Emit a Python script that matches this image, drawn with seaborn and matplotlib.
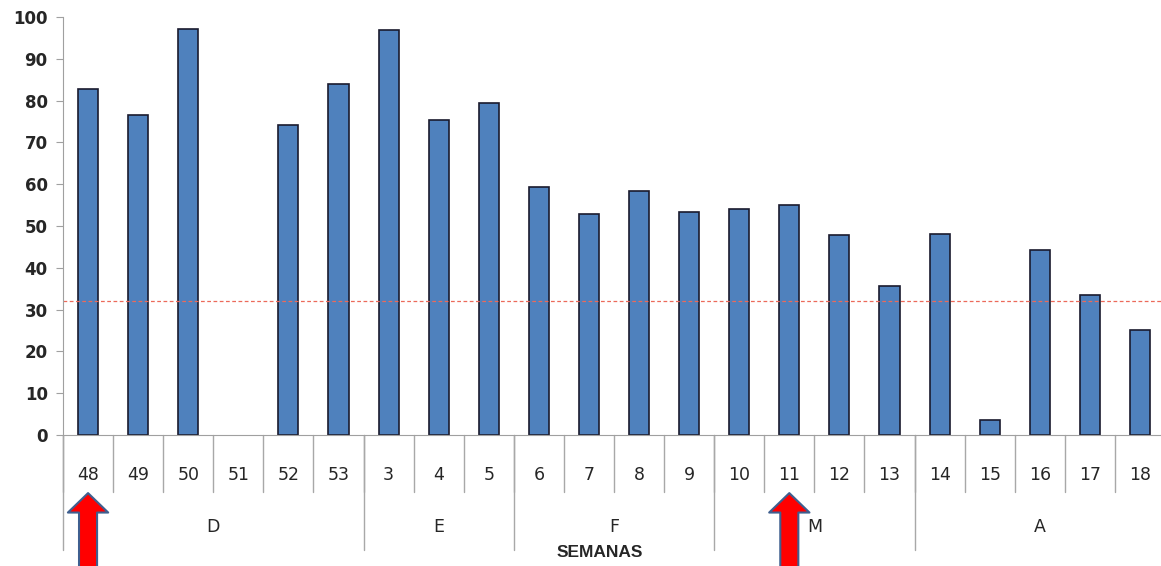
import matplotlib
matplotlib.use("Agg")
import matplotlib.pyplot as plt
import seaborn as sns
import pandas as pd

# datos
semanas = ["48", "49", "50", "51", "52", "53", "3", "4", "5", "6", "7",
           "8", "9", "10", "11", "12", "13", "14", "15", "16", "17", "18"]
valores = [82.8, 76.6, 97.1, 0, 74.2, 84.0, 96.9, 75.4, 79.4, 59.3, 52.9,
           58.4, 53.3, 54.0, 55.0, 47.8, 35.6, 48.1, 3.6, 44.3, 33.5, 25.1]
meses = ["D", "E", "F", "M", "A"]
semanas_por_mes = [6, 3, 4, 4, 5]
umbral = 32
flechas = ["48", "11"]

sns.set_style("white")
plt.rcParams["font.family"] = ["DejaVu Sans"]

df = pd.DataFrame({"semana": semanas, "valor": valores})

fig = plt.figure(figsize=(11.61, 5.66), dpi=100)
ax = fig.add_axes([63 / 1161, 1 - 435 / 566, (1165 - 63) / 1161, 418 / 566])
sns.barplot(data=df, x="semana", y="valor", order=semanas, color="#4F81BD",
            width=0.4, edgecolor="#1a1a2e", linewidth=1.2, saturation=1, ax=ax)
# sin barra visible cuando el valor es 0
for p in ax.patches:
    if p.get_height() == 0:
        p.set_visible(False)
ax.set_xlim(-0.5, len(semanas) - 0.5)
ax.set_ylim(0, 100)
ax.set_yticks(range(0, 101, 10))
ax.axhline(umbral, color="#ec6a5a", linestyle=(0, (3, 2)), linewidth=0.9)

for s in ["top", "right"]:
    ax.spines[s].set_visible(False)
for s in ["left", "bottom"]:
    ax.spines[s].set_color("#a0a0a0")
ax.tick_params(axis="y", left=True, length=5, color="#a0a0a0", labelsize=12, pad=6)
ax.tick_params(axis="x", bottom=False, labelsize=12.5, pad=19)
for t in ax.get_yticklabels():
    t.set_fontweight("bold")
ax.set_xlabel("")
ax.set_ylabel("")

tr = ax.get_xaxis_transform()
# separadores de semanas
for i in range(len(semanas) + 1):
    ax.plot([i - 0.5, i - 0.5], [0, -0.136], transform=tr, color="#a8a8a8",
            linewidth=1, clip_on=False)
# separadores de meses y etiquetas
pos = -0.5
for m, n in zip(meses, semanas_por_mes):
    ax.plot([pos, pos], [0, -0.275], transform=tr, color="#a8a8a8",
            linewidth=1, clip_on=False)
    ax.text(pos + n / 2, -0.22, m, transform=tr, ha="center", va="center",
            fontsize=12.5)
    pos += n
ax.plot([pos, pos], [0, -0.275], transform=tr, color="#a8a8a8",
        linewidth=1, clip_on=False)

ax.text(10.22, -0.282, "SEMANAS", transform=tr, ha="center", va="center",
        fontsize=12.5, fontweight="bold", family=["Liberation Sans", "DejaVu Sans"])

for f in flechas:
    x = semanas.index(f)
    ax.annotate("", xy=(x, -0.139), xytext=(x, -0.34), xycoords=tr, textcoords=tr,
                arrowprops=dict(width=13, headwidth=29, headlength=14,
                                facecolor="#ff0000", edgecolor="#3f5f8f",
                                linewidth=1.5), annotation_clip=False)

fig.savefig("out.png", dpi=100)
